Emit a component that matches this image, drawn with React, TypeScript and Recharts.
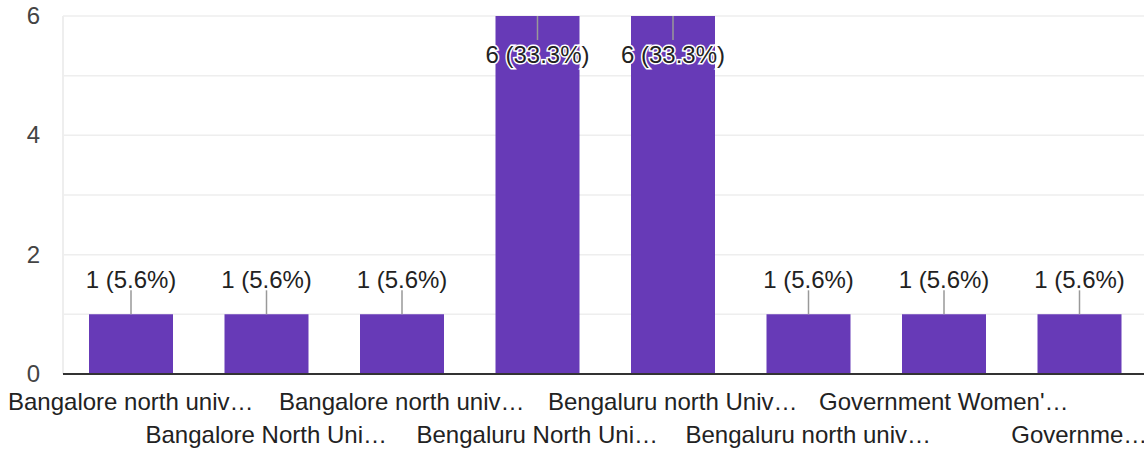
import { BarChart, Bar, XAxis, YAxis, CartesianGrid, LabelList } from 'recharts';

const categories = [
  'Bangalore north univ…',
  'Bangalore North Uni…',
  'Bangalore north univ…',
  'Bengaluru North Uni…',
  'Bengaluru north Univ…',
  'Bengaluru north univ…',
  "Government Women'…",
  'Governme…',
];
const counts = [1, 1, 1, 6, 6, 1, 1, 1];
const yTicks = [0, 1, 2, 3, 4, 5, 6];

const total = counts.reduce((a, b) => a + b, 0);
const data = categories.map((name, i) => ({ id: i, name, value: counts[i] }));
const font = "'Liberation Sans', Arial, sans-serif";

const XTick = (props: any) => {
  const { x, y, payload } = props;
  const row = payload.index % 2;
  return (
    <text x={x} y={y + 36 + row * 33} textAnchor="middle" fontSize={24} fill="#222" fontFamily={font}>
      {categories[payload.index]}
    </text>
  );
};

const YTick = (props: any) => {
  const { x, y, payload } = props;
  if (payload.value % 2 !== 0) return <g />;
  return (
    <text x={x} y={y + 8} textAnchor="end" fontSize={24} fill="#444" fontFamily={font}>
      {payload.value}
    </text>
  );
};

const BarLabel = (props: any) => {
  const { x, y, width, value } = props;
  const cx = x + width / 2;
  const text = `${value} (${((value / total) * 100).toFixed(1)}%)`;
  const inside = y < 70;
  const lineEnd = inside ? y + 24 : y - 24;
  const ty = inside ? y + 47 : y - 26;
  return (
    <g>
      <line x1={cx} x2={cx} y1={y} y2={lineEnd} stroke="#999" strokeWidth={1.5} />
      <text x={cx} y={ty} textAnchor="middle" fontSize={24} fill="#222"
        stroke="#fff" strokeWidth={3} paintOrder="stroke" fontFamily={font}>
        {text}
      </text>
    </g>
  );
};

export default function App() {
  return (
    <div style={{ position: 'absolute', left: 0, top: 0, background: '#fff' }}>
      <BarChart width={1144} height={450} data={data}
        margin={{ top: 16, right: -3, bottom: 0, left: 0 }} barCategoryGap={0}>
        <CartesianGrid vertical={false} stroke="#eeeeee" strokeWidth={1.5} />
        <YAxis domain={[0, 6]} ticks={yTicks} interval={0} width={63}
          tickLine={false} tickSize={0} tickMargin={23}
          axisLine={{ stroke: '#eeeeee', strokeWidth: 2 }} tick={<YTick />} />
        <XAxis dataKey="id" height={76} interval={0} tickLine={false} tickSize={0} tickMargin={0}
          axisLine={{ stroke: '#333', strokeWidth: 2 }} tick={<XTick />} />
        <Bar dataKey="value" fill="#673ab7" barSize={84} isAnimationActive={false}>
          <LabelList dataKey="value" content={<BarLabel />} />
        </Bar>
      </BarChart>
    </div>
  );
}
